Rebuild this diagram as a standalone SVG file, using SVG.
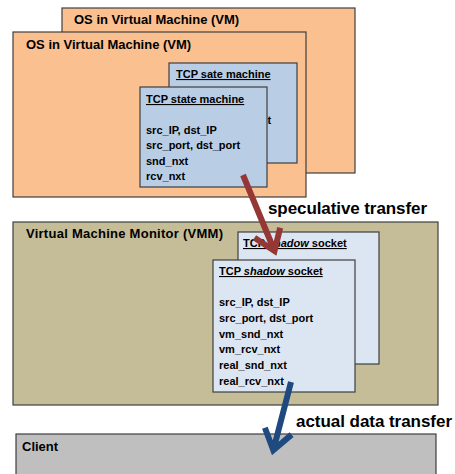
<svg xmlns="http://www.w3.org/2000/svg" width="455" height="474" viewBox="0 0 455 474">
  <style>
    .box { stroke: #3f3f3f; stroke-width: 1.2; }
    .vm { fill: #FAC090; }
    .tcp { fill: #B9CDE5; }
    .vmm { fill: #C4BD97; }
    .shadow { fill: #DCE6F2; }
    .client { fill: #BFBFBF; }
    text { font-family: "Liberation Sans", Arial, sans-serif; font-weight: bold; fill: #000; }
    .title { font-size: 13px; }
    .hdr { font-size: 11px; text-decoration: underline; }
    .fld { font-size: 11px; }
    .arrow { fill: none; stroke-width: 6; stroke-linejoin: miter; stroke-linecap: butt; }
    .lbl { font-size: 17px; }
  </style>

  <!-- Guest OS (back copy) -->
  <g id="vm-back">
    <rect class="box vm" x="62" y="8" width="293" height="165"/>
    <text class="title" x="74" y="24">OS in Virtual Machine (VM)</text>
  </g>

  <!-- Guest OS (front copy) -->
  <g id="vm-front">
    <rect class="box vm" x="13" y="32" width="293" height="165"/>
    <text class="title" x="26" y="49">OS in Virtual Machine (VM)</text>
  </g>

  <!-- TCP state machine, back copy: only the tail of its port line peeks out -->
  <g id="tcp-back">
    <rect class="box tcp" x="169" y="63" width="128" height="100"/>
    <text class="hdr" x="176" y="78">TCP sate machine</text>
    <text class="fld" x="267.5" y="124">t</text>
  </g>

  <!-- TCP state machine, front copy -->
  <g id="tcp-front">
    <rect class="box tcp" x="140" y="87" width="127" height="100"/>
    <text class="hdr" x="146" y="103">TCP state machine</text>
    <text class="fld" x="146" y="133.5">src_IP, dst_IP</text>
    <text class="fld" x="146" y="149">src_port, dst_port</text>
    <text class="fld" x="146" y="164.6">snd_nxt</text>
    <text class="fld" x="146" y="180.2">rcv_nxt</text>
  </g>

  <!-- Hypervisor -->
  <g id="vmm">
    <rect class="box vmm" x="13" y="222" width="425" height="183"/>
    <text class="title" x="26" y="238" textLength="197">Virtual Machine Monitor (VMM)</text>
  </g>

  <!-- Shadow socket, back copy -->
  <g id="shadow-back">
    <rect class="box shadow" x="238" y="232" width="141" height="132"/>
    <text class="hdr" x="243" y="247">TCP <tspan font-style="italic">shadow</tspan> socket</text>
  </g>

  <!-- Shadow socket, front copy -->
  <g id="shadow-front">
    <rect class="box shadow" x="213" y="260" width="142" height="132"/>
    <text class="hdr" x="219" y="275">TCP <tspan font-style="italic">shadow</tspan> socket</text>
    <text class="fld" x="219" y="306">src_IP, dst_IP</text>
    <text class="fld" x="219" y="321.8">src_port, dst_port</text>
    <text class="fld" x="219" y="337.6">vm_snd_nxt</text>
    <text class="fld" x="219" y="353.4">vm_rcv_nxt</text>
    <text class="fld" x="219" y="369.2">real_snd_nxt</text>
    <text class="fld" x="219" y="385">real_rcv_nxt</text>
  </g>

  <!-- Remote peer -->
  <g id="client">
    <rect class="box client" x="16" y="434" width="420" height="60"/>
    <text class="title" x="22" y="450.5" font-size="12.5">Client</text>
  </g>

  <!-- Transfers -->
  <g id="connectors">
    <g id="speculative">
      <path class="arrow" stroke="#953735" d="M243,175 L274.5,251 M254.5,237.7 L274.5,251 L280.2,227.7"/>
      <text class="lbl" x="268" y="214" fill="#953735" textLength="159">speculative transfer</text>
    </g>
    <g id="actual">
      <path class="arrow" stroke="#1F4A80" d="M291,382 L273.3,450.2 M264.9,427.7 L273.3,450.2 L291.6,434.6"/>
      <text class="lbl" x="296" y="426.5" fill="#1F497D" textLength="156">actual data transfer</text>
    </g>
  </g>
</svg>
